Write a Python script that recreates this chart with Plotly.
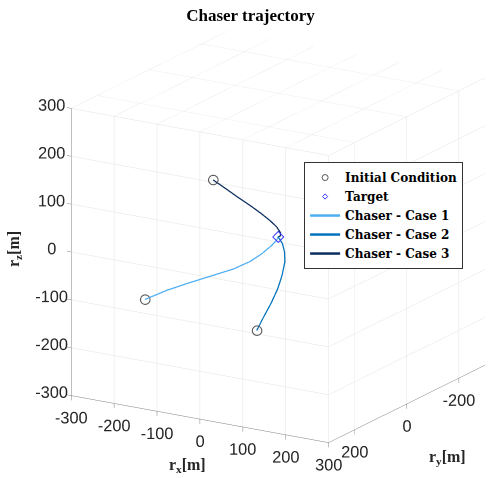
import plotly.graph_objects as go

# ---- data (metres) ----
case1_x = [-189, -157, -128, -92, -56, -32, -16, -6, -0.5, 0]
case1_y = [200, 170, 140, 110, 80, 55, 35, 15, 5, 0]
case1_z = [-108, -92, -81, -68, -55, -42, -28, -15, -6, 0]

case2_x = [11, 20, 30, 38, 41, 40, 32, 20, 8, 0]
case2_y = [100, 88, 76, 64, 52, 40, 28, 16, 6, 0]
case2_z = [-167, -140, -113, -85, -59, -35, -19, -7, -3, 0]

case3_x = [-170, -140, -109, -76, -48, -25, -7, 4, 4.5, 0]
case3_y = [-30, -26, -22, -18, -14, -10, -6, -3, -1, 0]
case3_z = [83, 72, 60, 48, 37, 27, 18, 8, 2, 0]

target = [0, 0, 0]

ic_x = [case1_x[0], case2_x[0], case3_x[0]]
ic_y = [case1_y[0], case2_y[0], case3_y[0]]
ic_z = [case1_z[0], case2_z[0], case3_z[0]]

xticks = [-300, -200, -100, 0, 100, 200, 300]
yticks = [-200, 0, 200]
zticks = [-300, -200, -100, 0, 100, 200, 300]

c1 = "#4DAEF2"
c2 = "#0072BD"
c3 = "#0B2D5E"

fig = go.Figure()
fig.add_trace(go.Scatter3d(x=ic_x, y=ic_y, z=ic_z, mode="markers", name="Initial Condition",
                           marker=dict(symbol="circle-open", size=6, color="#555555")))
fig.add_trace(go.Scatter3d(x=[target[0]], y=[target[1]], z=[target[2]], mode="markers", name="Target",
                           marker=dict(symbol="diamond-open", size=4, color="#3333FF")))
fig.add_trace(go.Scatter3d(x=case1_x, y=case1_y, z=case1_z, mode="lines", name="Chaser - Case 1",
                           line=dict(color=c1, width=2.5)))
fig.add_trace(go.Scatter3d(x=case2_x, y=case2_y, z=case2_z, mode="lines", name="Chaser - Case 2",
                           line=dict(color=c2, width=2.5)))
fig.add_trace(go.Scatter3d(x=case3_x, y=case3_y, z=case3_z, mode="lines", name="Chaser - Case 3",
                           line=dict(color=c3, width=2.5)))

tickfont = dict(family="Liberation Sans, Arial", size=14, color="#262626")
def ax(tv):
    return dict(range=[-300, 300], tickvals=tv, ticktext=[str(v) for v in tv], autorange=False,
                showbackground=False, gridcolor="#E3E3E3", gridwidth=1,
                showline=True, linecolor="#7F7F7F", linewidth=1,
                ticks="outside", ticklen=5, tickcolor="#7F7F7F", tickangle=0,
                zeroline=False, showspikes=False, tickfont=tickfont, title=dict(text=""))

k = 1.6
view_dir = (-0.495, -0.815, -0.301)
s = 1.26
cen = (-0.0973, 0.0623, -0.0088)
eye = tuple(c + d * k for c, d in zip(cen, view_dir))

lab_font = dict(family="Liberation Serif, serif", size=16, color="#262626")
fig.update_layout(
    width=501, height=478,
    margin=dict(l=0, r=0, t=0, b=0),
    paper_bgcolor="white",
    title=dict(text="<b>Chaser trajectory</b>", x=0.5, xanchor="center", y=0.969, yanchor="middle",
               font=dict(family="Liberation Serif, serif", size=17, color="#000000")),
    scene=dict(
        domain=dict(x=[0, 1], y=[0, 1]),
        xaxis=ax(xticks), yaxis=ax(yticks), zaxis=ax(zticks),
        aspectmode="manual", aspectratio=dict(x=s, y=s, z=s),
        camera=dict(eye=dict(x=eye[0], y=eye[1], z=eye[2]), up=dict(x=0, y=0, z=1),
                    center=dict(x=cen[0], y=cen[1], z=cen[2]), projection=dict(type="orthographic")),
    ),
    legend=dict(x=0.607, y=0.661, xanchor="left", yanchor="top",
                bgcolor="white", bordercolor="#333333", borderwidth=1,
                font=dict(family="DejaVu Serif, serif", size=12, color="#000000", weight="bold"),
                tracegroupgap=0, itemwidth=30),
    showlegend=True,
    annotations=[
        dict(text="<b>r<sub>x</sub>[m]</b>", x=187 / 501, y=1 - 465 / 478, xref="paper", yref="paper",
             xanchor="center", yanchor="middle", showarrow=False, font=lab_font),
        dict(text="<b>r<sub>y</sub>[m]</b>", x=447 / 501, y=1 - 457 / 478, xref="paper", yref="paper",
             xanchor="center", yanchor="middle", showarrow=False, font=lab_font),
        dict(text="<b>r<sub>z</sub>[m]</b>", x=14 / 501, y=1 - 249 / 478, xref="paper", yref="paper",
             xanchor="center", yanchor="middle", showarrow=False, textangle=-90, font=lab_font),
    ],
)

fig.write_html("out.html")
